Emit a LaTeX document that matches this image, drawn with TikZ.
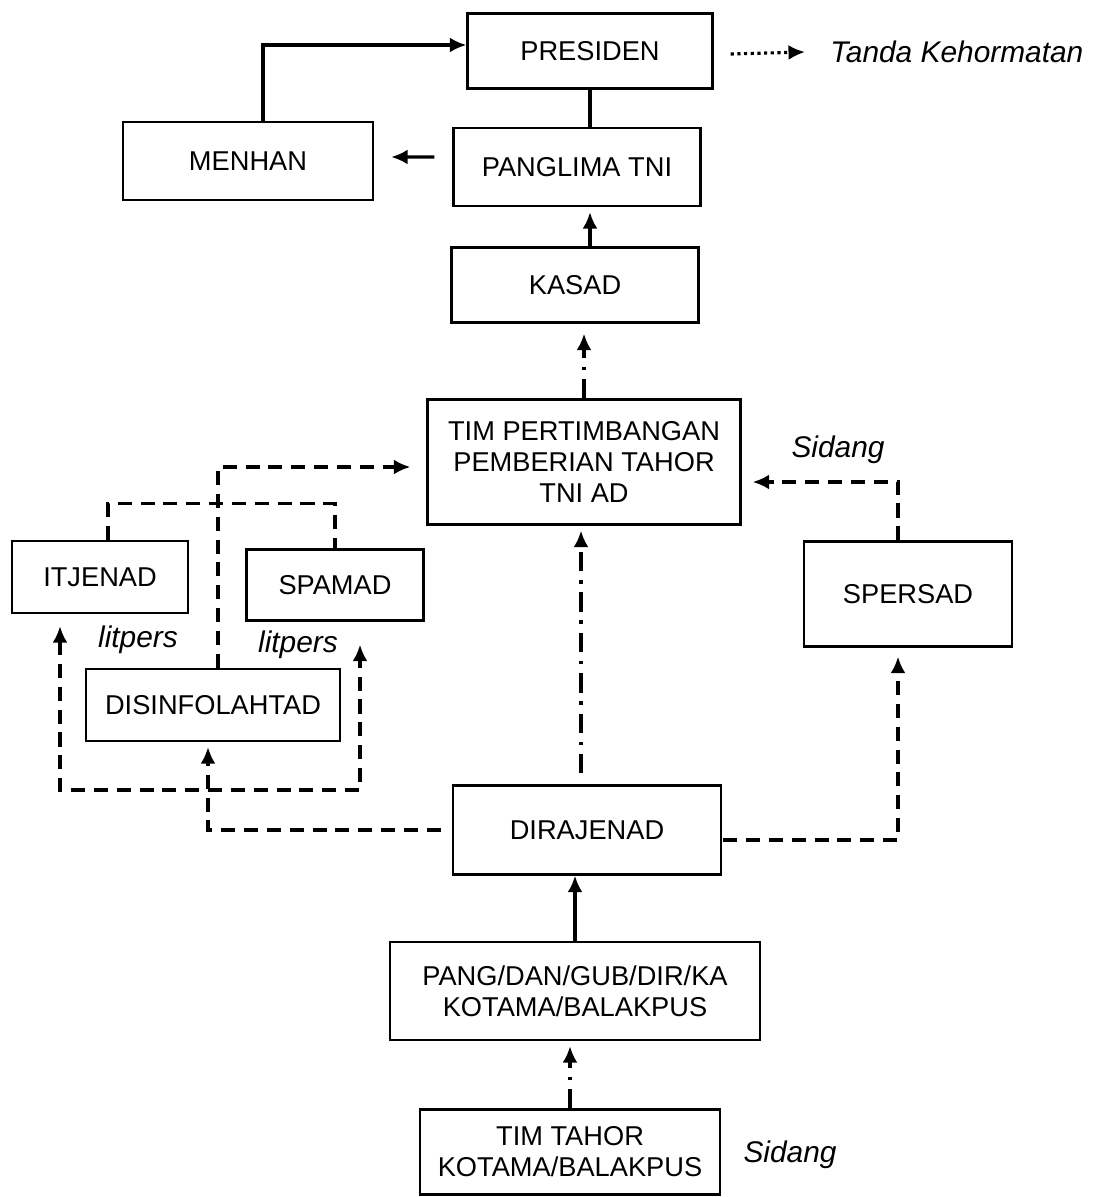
\documentclass[tikz,border=0pt]{standalone}
\usepackage{fontspec}
\setmainfont{Liberation Sans}
\usetikzlibrary{shapes,arrows.meta}

\begin{document}
\begin{tikzpicture}[>={Latex[length=3.3mm,width=3mm]}]
		\tikzstyle {box} = [draw, line width=1.3pt, align=center, inner sep=0pt, font=\fontsize{15.5}{17.6}\selectfont]
		\tikzstyle {note} = [inner sep=0pt, font=\fontsize{17}{20}\selectfont\itshape]
		\tikzstyle {conn} = [line width=1.8pt]
		\tikzstyle {dash conn} = [conn, dash pattern=on 8pt off 5pt]
		\tikzstyle {dashdot conn} = [conn, dash pattern=on 11pt off 5pt on 2pt off 5pt]

		\useasboundingbox (0,0) rectangle (21.84,-23.94);

		% upper chain
		\node[box, minimum width=4.9cm, minimum height=1.5cm] (presiden) at (11.8,-1.02) {PRESIDEN};
		\node[box, minimum width=5.0cm, minimum height=1.56cm] (menhan) at (4.96,-3.22) {MENHAN};
		\node[box, minimum width=4.94cm, minimum height=1.56cm] (panglima) at (11.54,-3.34) {PANGLIMA TNI};
		\node[box, minimum width=4.94cm, minimum height=1.5cm] (kasad) at (11.5,-5.7) {KASAD};
		\node[box, minimum width=6.26cm, minimum height=2.5cm] (tim) at (11.68,-9.24) {TIM PERTIMBANGAN\\PEMBERIAN TAHOR\\TNI AD};
		\node[note, anchor=west] (tanda) at (16.6,-1.04) {Tanda Kehormatan};

		% staff
		\node[box, minimum width=3.52cm, minimum height=1.44cm] (itjenad) at (2.0,-11.54) {ITJENAD};
		\node[box, minimum width=3.54cm, minimum height=1.42cm] (spamad) at (6.7,-11.7) {SPAMAD};
		\node[box, minimum width=5.08cm, minimum height=1.44cm] (disinfo) at (4.26,-14.1) {DISINFOLAHTAD};
		\node[box, minimum width=4.16cm, minimum height=2.1cm] (spersad) at (18.16,-11.88) {SPERSAD};
		\node[note] (litpersa) at (2.76,-12.8) {litpers};
		\node[note] (litpersb) at (5.96,-12.9) {litpers};
		\node[note] (sidanga) at (16.76,-9.0) {Sidang};

		% lower chain
		\node[box, minimum width=5.36cm, minimum height=1.78cm] (dirajenad) at (11.74,-16.6) {DIRAJENAD};
		\node[box, minimum width=7.4cm, minimum height=1.96cm] (pang) at (11.5,-19.82) {PANG/DAN/GUB/DIR/KA\\KOTAMA/BALAKPUS};
		\node[box, minimum width=6.0cm, minimum height=1.7cm] (timtahor) at (11.4,-23.04) {TIM TAHOR\\KOTAMA/BALAKPUS};
		\node[note] (sidangb) at (15.8,-23.1) {Sidang};

		\coordinate (loop) at (4.16,-15.8);

		% solid links
		\draw[conn, ->] ([xshift=3mm]menhan.north) |- ([yshift=1.2mm]presiden.west);
		\draw[conn] (presiden.south) -- (presiden.south |- panglima.north);
		\draw[conn, ->] ([xshift=-3.6mm,yshift=2mm]panglima.west) -- ([xshift=3.4mm,yshift=0.8mm]menhan.east);
		\draw[conn, ->] ([xshift=3mm]kasad.north) -- ([xshift=3mm,yshift=-0.1cm]kasad.north |- panglima.south);
		\draw[conn, ->] (pang.north) -- (pang.north |- dirajenad.south);
		\draw[conn, dotted, ->] ([xshift=3.4mm,yshift=-0.6mm]presiden.east) -- ([xshift=-5mm]tanda.west);

		% dash dot links
		\draw[dashdot conn, ->] (tim.north) -- ([yshift=-2mm]tim.north |- kasad.south);
		\draw[dashdot conn, ->] ([xshift=-1.2mm,yshift=2.2mm]dirajenad.north) -- ([xshift=-1.2mm,yshift=-1mm]dirajenad.north |- tim.south);
		\draw[dashdot conn, ->] (timtahor.north) -- ([yshift=-1mm]timtahor.north |- pang.south);

		% dashed links
		\draw[dash conn, ->] ([xshift=-2.2mm]dirajenad.west) -| ([xshift=-1mm,yshift=-0.1cm]disinfo.south);
		\draw[dash conn, ->] ([xshift=0.2mm,yshift=-2mm]dirajenad.east) -| ([xshift=-2mm,yshift=-1.8mm]spersad.south);
		\draw[dash conn, ->] ([xshift=-2mm]spersad.north) |- ([xshift=2.2mm,yshift=-4mm]tim.east);
		\draw[dash conn, ->] ([xshift=1mm]disinfo.north) |- ([xshift=-3.2mm,yshift=-1mm]tim.west);
		\draw[dash conn] ([xshift=1.6mm]itjenad.north) -- ++(0,0.72) -| (spamad.north);
		\draw[dash conn, <->] ([xshift=-8mm,yshift=-2.4mm]itjenad.south) |- (loop) -| ([xshift=5mm,yshift=-4.6mm]spamad.south);

	\end{tikzpicture}
\end{document}
